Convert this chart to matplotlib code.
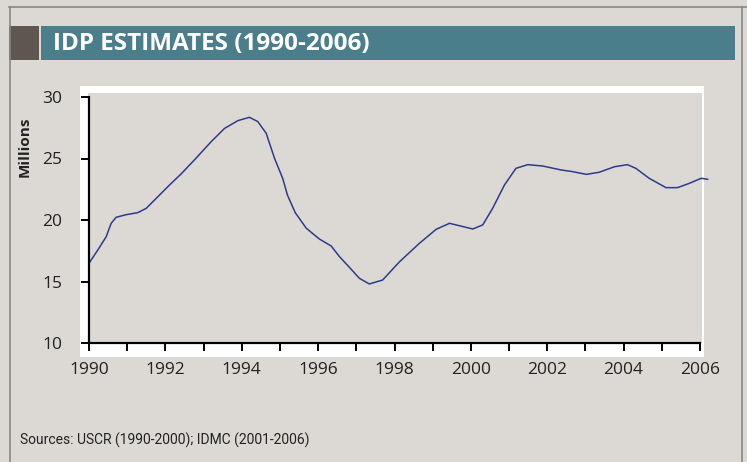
import numpy as np
import matplotlib.pyplot as plt
from matplotlib.patches import Rectangle
from matplotlib.lines import Line2D

# dati (stime in milioni)
anni = [1990.01, 1990.23, 1990.45, 1990.58, 1990.71, 1990.97, 1991.28, 1991.50,
        1991.76, 1992.11, 1992.41, 1992.76, 1993.20, 1993.55, 1993.90, 1994.20,
        1994.42, 1994.64, 1994.86, 1995.07, 1995.20, 1995.40, 1995.69, 1996.03,
        1996.34, 1996.56, 1996.82, 1997.08, 1997.34, 1997.69, 1998.13, 1998.65,
        1999.09, 1999.44, 2000.05, 2000.31, 2000.57, 2000.88, 2001.18, 2001.49,
        2001.88, 2002.36, 2002.67, 2003.02, 2003.36, 2003.76, 2004.10, 2004.32,
        2004.67, 2005.11, 2005.41, 2005.72, 2006.03, 2006.20]
idp = [16.53, 17.56, 18.64, 19.73, 20.22, 20.43, 20.60, 20.95,
       21.76, 22.85, 23.74, 24.88, 26.37, 27.45, 28.08, 28.35,
       28.00, 27.05, 25.00, 23.40, 22.00, 20.60, 19.33, 18.46,
       17.89, 17.02, 16.15, 15.26, 14.80, 15.12, 16.60, 18.10,
       19.24, 19.73, 19.27, 19.60, 20.95, 22.85, 24.20, 24.50,
       24.39, 24.07, 23.93, 23.71, 23.88, 24.33, 24.50, 24.20,
       23.39, 22.63, 22.63, 22.98, 23.39, 23.31]
yticks = [10, 15, 20, 25, 30]
xlabels = [1990, 1992, 1994, 1996, 1998, 2000, 2002, 2004, 2006]

W, H = 747, 462
bg = '#dcd9d5'
font = 'Open Sans'

fig = plt.figure(figsize=(W/100, H/100), dpi=100)
fig.patch.set_facecolor(bg)

def px(x0, y0, x1, y1):
    # rettangolo in pixel (origine in alto a sinistra) -> coordinate figura
    return (x0/W, 1-y1/H), (x1-x0)/W, (y1-y0)/H

def rett(x0, y0, x1, y1, col):
    xy, w, h = px(x0, y0, x1, y1)
    fig.add_artist(Rectangle(xy, w, h, transform=fig.transFigure, color=col, lw=0, zorder=-10))

# cornice esterna
fig.add_artist(Line2D([9/W, 1], [1-7/H, 1-7/H], color='#8a8680', lw=1.2))
fig.add_artist(Line2D([9.5/W, 9.5/W], [0, 1-7/H], color='#8a8680', lw=1.2))
fig.add_artist(Line2D([741.5/W, 741.5/W], [0, 1-7/H], color='#8a8680', lw=1.2))

# banda del titolo
rett(9, 26, 39, 60, '#5f5650')
rett(41, 26, 735, 60, '#4a7e8a')
fig.text(53/W, 1-44/H, 'IDP ESTIMATES (1990-2006)', color='white', fontsize=17.5,
         fontweight='bold', family=font, va='center', ha='left')

# riquadro bianco dell'area del grafico
rett(80, 86, 704, 357, 'white')
rett(88, 93, 702, 343, bg)

ax = fig.add_axes([89/W, 1-343/H, (700-89)/W, (343-97)/H])
ax.set_facecolor('none')
ax.plot(anni, idp, color='#2e3a8c', lw=1.1, clip_on=False, solid_joinstyle='round')
ax.set_xlim(1990, 2006)
ax.set_ylim(10, 30)
ax.set_yticks(yticks)
ax.set_xticks(xlabels)
ax.set_xticks(np.arange(1991, 2006, 2), minor=True)
for s in ['top', 'right']:
    ax.spines[s].set_visible(False)
for s in ['left', 'bottom']:
    ax.spines[s].set_linewidth(1.6)
ax.tick_params(axis='both', which='both', length=6, width=1.4, color='black')
ax.tick_params(axis='y', pad=13, labelsize=12.5)
ax.tick_params(axis='x', pad=8, labelsize=12.5)
for lab in ax.get_xticklabels() + ax.get_yticklabels():
    lab.set_family(font)
    lab.set_color('#222222')

fig.text(25/W, 1-147/H, 'Millions', rotation=90, fontsize=11, fontweight='bold',
         family=font, va='center', ha='center', color='#222222')
fig.text(20/W, 1-440/H, 'Sources: USCR (1990-2000); IDMC (2001-2006)', fontsize=10,
         family='Roboto', va='center', ha='left', color='#222222')

fig.savefig('out.png', dpi=100, facecolor=bg)
